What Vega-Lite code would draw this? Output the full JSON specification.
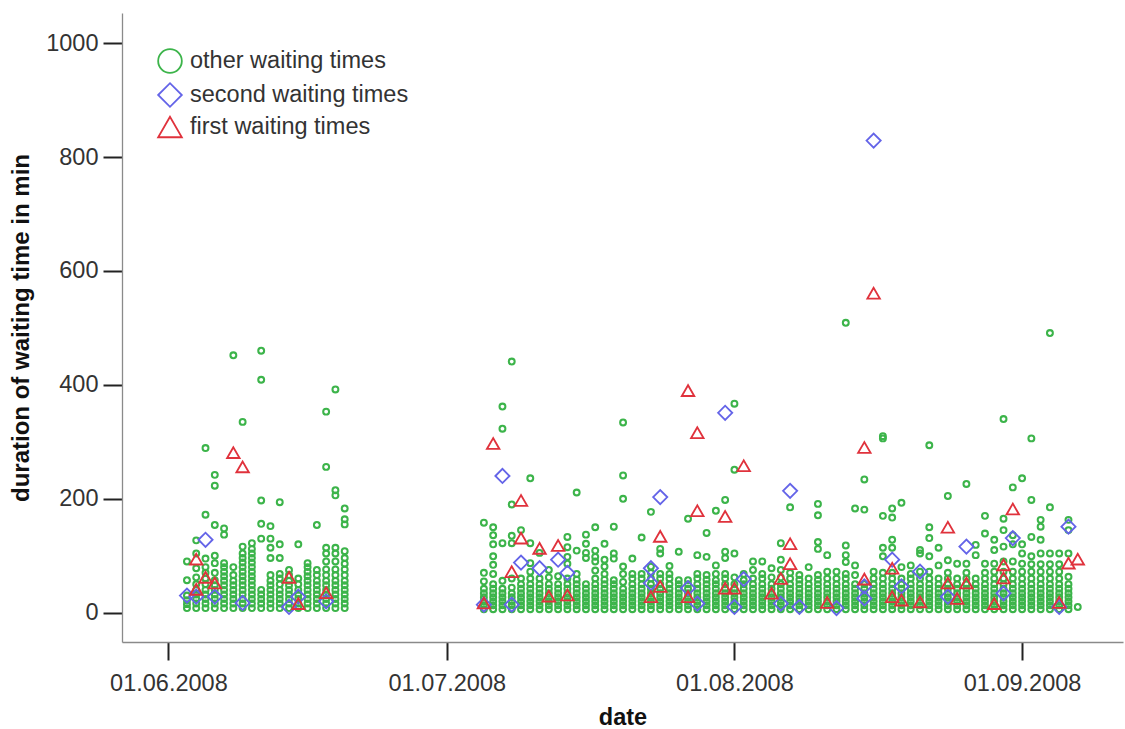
{
"$schema":"https://vega.github.io/schema/vega-lite/v6.json",
"width":1001,"height":629,
"autosize":{"type":"none"},
"padding":{"left":122,"top":13,"right":2,"bottom":87},
"background":"white",
"config":{"view":{"stroke":null},"font":"Liberation Sans"},
"data":{"values":[
{"d":"2008-06-03","v":8,"g":"other"},{"d":"2008-06-03","v":15,"g":"other"},{"d":"2008-06-03","v":22,"g":"other"},{"d":"2008-06-03","v":30,"g":"other"},{"d":"2008-06-03","v":57,"g":"other"},{"d":"2008-06-03","v":90,"g":"other"},
{"d":"2008-06-04","v":8,"g":"other"},{"d":"2008-06-04","v":16,"g":"other"},{"d":"2008-06-04","v":24,"g":"other"},{"d":"2008-06-04","v":32,"g":"other"},{"d":"2008-06-04","v":40,"g":"other"},{"d":"2008-06-04","v":50,"g":"other"},{"d":"2008-06-04","v":62,"g":"other"},{"d":"2008-06-04","v":78,"g":"other"},{"d":"2008-06-04","v":104,"g":"other"},{"d":"2008-06-04","v":127,"g":"other"},
{"d":"2008-06-05","v":8,"g":"other"},{"d":"2008-06-05","v":16,"g":"other"},{"d":"2008-06-05","v":24,"g":"other"},{"d":"2008-06-05","v":32,"g":"other"},{"d":"2008-06-05","v":40,"g":"other"},{"d":"2008-06-05","v":50,"g":"other"},{"d":"2008-06-05","v":60,"g":"other"},{"d":"2008-06-05","v":70,"g":"other"},{"d":"2008-06-05","v":80,"g":"other"},{"d":"2008-06-05","v":95,"g":"other"},{"d":"2008-06-05","v":172,"g":"other"},{"d":"2008-06-05","v":289,"g":"other"},
{"d":"2008-06-06","v":8,"g":"other"},{"d":"2008-06-06","v":16,"g":"other"},{"d":"2008-06-06","v":24,"g":"other"},{"d":"2008-06-06","v":32,"g":"other"},{"d":"2008-06-06","v":40,"g":"other"},{"d":"2008-06-06","v":48,"g":"other"},{"d":"2008-06-06","v":57,"g":"other"},{"d":"2008-06-06","v":70,"g":"other"},{"d":"2008-06-06","v":87,"g":"other"},{"d":"2008-06-06","v":100,"g":"other"},{"d":"2008-06-06","v":154,"g":"other"},{"d":"2008-06-06","v":223,"g":"other"},{"d":"2008-06-06","v":242,"g":"other"},
{"d":"2008-06-07","v":8,"g":"other"},{"d":"2008-06-07","v":16,"g":"other"},{"d":"2008-06-07","v":24,"g":"other"},{"d":"2008-06-07","v":32,"g":"other"},{"d":"2008-06-07","v":40,"g":"other"},{"d":"2008-06-07","v":48,"g":"other"},{"d":"2008-06-07","v":56,"g":"other"},{"d":"2008-06-07","v":64,"g":"other"},{"d":"2008-06-07","v":72,"g":"other"},{"d":"2008-06-07","v":80,"g":"other"},{"d":"2008-06-07","v":87,"g":"other"},{"d":"2008-06-07","v":137,"g":"other"},{"d":"2008-06-07","v":148,"g":"other"},
{"d":"2008-06-08","v":8,"g":"other"},{"d":"2008-06-08","v":16,"g":"other"},{"d":"2008-06-08","v":24,"g":"other"},{"d":"2008-06-08","v":32,"g":"other"},{"d":"2008-06-08","v":40,"g":"other"},{"d":"2008-06-08","v":48,"g":"other"},{"d":"2008-06-08","v":56,"g":"other"},{"d":"2008-06-08","v":66,"g":"other"},{"d":"2008-06-08","v":80,"g":"other"},{"d":"2008-06-08","v":452,"g":"other"},
{"d":"2008-06-09","v":8,"g":"other"},{"d":"2008-06-09","v":16,"g":"other"},{"d":"2008-06-09","v":24,"g":"other"},{"d":"2008-06-09","v":32,"g":"other"},{"d":"2008-06-09","v":40,"g":"other"},{"d":"2008-06-09","v":48,"g":"other"},{"d":"2008-06-09","v":56,"g":"other"},{"d":"2008-06-09","v":64,"g":"other"},{"d":"2008-06-09","v":72,"g":"other"},{"d":"2008-06-09","v":80,"g":"other"},{"d":"2008-06-09","v":88,"g":"other"},{"d":"2008-06-09","v":96,"g":"other"},{"d":"2008-06-09","v":104,"g":"other"},{"d":"2008-06-09","v":116,"g":"other"},{"d":"2008-06-09","v":335,"g":"other"},
{"d":"2008-06-10","v":8,"g":"other"},{"d":"2008-06-10","v":16,"g":"other"},{"d":"2008-06-10","v":24,"g":"other"},{"d":"2008-06-10","v":32,"g":"other"},{"d":"2008-06-10","v":40,"g":"other"},{"d":"2008-06-10","v":48,"g":"other"},{"d":"2008-06-10","v":56,"g":"other"},{"d":"2008-06-10","v":64,"g":"other"},{"d":"2008-06-10","v":72,"g":"other"},{"d":"2008-06-10","v":80,"g":"other"},{"d":"2008-06-10","v":88,"g":"other"},{"d":"2008-06-10","v":96,"g":"other"},{"d":"2008-06-10","v":104,"g":"other"},{"d":"2008-06-10","v":112,"g":"other"},{"d":"2008-06-10","v":122,"g":"other"},
{"d":"2008-06-11","v":8,"g":"other"},{"d":"2008-06-11","v":16,"g":"other"},{"d":"2008-06-11","v":24,"g":"other"},{"d":"2008-06-11","v":32,"g":"other"},{"d":"2008-06-11","v":40,"g":"other"},{"d":"2008-06-11","v":130,"g":"other"},{"d":"2008-06-11","v":156,"g":"other"},{"d":"2008-06-11","v":197,"g":"other"},{"d":"2008-06-11","v":409,"g":"other"},{"d":"2008-06-11","v":460,"g":"other"},
{"d":"2008-06-12","v":8,"g":"other"},{"d":"2008-06-12","v":16,"g":"other"},{"d":"2008-06-12","v":24,"g":"other"},{"d":"2008-06-12","v":32,"g":"other"},{"d":"2008-06-12","v":40,"g":"other"},{"d":"2008-06-12","v":48,"g":"other"},{"d":"2008-06-12","v":56,"g":"other"},{"d":"2008-06-12","v":66,"g":"other"},{"d":"2008-06-12","v":96,"g":"other"},{"d":"2008-06-12","v":114,"g":"other"},{"d":"2008-06-12","v":130,"g":"other"},{"d":"2008-06-12","v":152,"g":"other"},
{"d":"2008-06-13","v":8,"g":"other"},{"d":"2008-06-13","v":16,"g":"other"},{"d":"2008-06-13","v":24,"g":"other"},{"d":"2008-06-13","v":32,"g":"other"},{"d":"2008-06-13","v":40,"g":"other"},{"d":"2008-06-13","v":50,"g":"other"},{"d":"2008-06-13","v":60,"g":"other"},{"d":"2008-06-13","v":68,"g":"other"},{"d":"2008-06-13","v":96,"g":"other"},{"d":"2008-06-13","v":120,"g":"other"},{"d":"2008-06-13","v":194,"g":"other"},
{"d":"2008-06-14","v":8,"g":"other"},{"d":"2008-06-14","v":16,"g":"other"},{"d":"2008-06-14","v":24,"g":"other"},{"d":"2008-06-14","v":32,"g":"other"},{"d":"2008-06-14","v":40,"g":"other"},{"d":"2008-06-14","v":48,"g":"other"},{"d":"2008-06-14","v":56,"g":"other"},{"d":"2008-06-14","v":66,"g":"other"},{"d":"2008-06-14","v":75,"g":"other"},
{"d":"2008-06-15","v":8,"g":"other"},{"d":"2008-06-15","v":16,"g":"other"},{"d":"2008-06-15","v":24,"g":"other"},{"d":"2008-06-15","v":32,"g":"other"},{"d":"2008-06-15","v":40,"g":"other"},{"d":"2008-06-15","v":50,"g":"other"},{"d":"2008-06-15","v":60,"g":"other"},{"d":"2008-06-15","v":120,"g":"other"},
{"d":"2008-06-16","v":8,"g":"other"},{"d":"2008-06-16","v":16,"g":"other"},{"d":"2008-06-16","v":24,"g":"other"},{"d":"2008-06-16","v":32,"g":"other"},{"d":"2008-06-16","v":40,"g":"other"},{"d":"2008-06-16","v":48,"g":"other"},{"d":"2008-06-16","v":56,"g":"other"},{"d":"2008-06-16","v":64,"g":"other"},{"d":"2008-06-16","v":72,"g":"other"},{"d":"2008-06-16","v":80,"g":"other"},{"d":"2008-06-16","v":87,"g":"other"},
{"d":"2008-06-17","v":8,"g":"other"},{"d":"2008-06-17","v":16,"g":"other"},{"d":"2008-06-17","v":24,"g":"other"},{"d":"2008-06-17","v":32,"g":"other"},{"d":"2008-06-17","v":40,"g":"other"},{"d":"2008-06-17","v":48,"g":"other"},{"d":"2008-06-17","v":56,"g":"other"},{"d":"2008-06-17","v":66,"g":"other"},{"d":"2008-06-17","v":75,"g":"other"},{"d":"2008-06-17","v":154,"g":"other"},
{"d":"2008-06-18","v":8,"g":"other"},{"d":"2008-06-18","v":16,"g":"other"},{"d":"2008-06-18","v":24,"g":"other"},{"d":"2008-06-18","v":32,"g":"other"},{"d":"2008-06-18","v":40,"g":"other"},{"d":"2008-06-18","v":48,"g":"other"},{"d":"2008-06-18","v":56,"g":"other"},{"d":"2008-06-18","v":66,"g":"other"},{"d":"2008-06-18","v":76,"g":"other"},{"d":"2008-06-18","v":90,"g":"other"},{"d":"2008-06-18","v":104,"g":"other"},{"d":"2008-06-18","v":114,"g":"other"},{"d":"2008-06-18","v":256,"g":"other"},{"d":"2008-06-18","v":353,"g":"other"},
{"d":"2008-06-19","v":8,"g":"other"},{"d":"2008-06-19","v":16,"g":"other"},{"d":"2008-06-19","v":24,"g":"other"},{"d":"2008-06-19","v":32,"g":"other"},{"d":"2008-06-19","v":40,"g":"other"},{"d":"2008-06-19","v":48,"g":"other"},{"d":"2008-06-19","v":56,"g":"other"},{"d":"2008-06-19","v":66,"g":"other"},{"d":"2008-06-19","v":76,"g":"other"},{"d":"2008-06-19","v":90,"g":"other"},{"d":"2008-06-19","v":104,"g":"other"},{"d":"2008-06-19","v":114,"g":"other"},{"d":"2008-06-19","v":206,"g":"other"},{"d":"2008-06-19","v":215,"g":"other"},{"d":"2008-06-19","v":392,"g":"other"},
{"d":"2008-06-20","v":8,"g":"other"},{"d":"2008-06-20","v":16,"g":"other"},{"d":"2008-06-20","v":24,"g":"other"},{"d":"2008-06-20","v":32,"g":"other"},{"d":"2008-06-20","v":40,"g":"other"},{"d":"2008-06-20","v":48,"g":"other"},{"d":"2008-06-20","v":56,"g":"other"},{"d":"2008-06-20","v":66,"g":"other"},{"d":"2008-06-20","v":76,"g":"other"},{"d":"2008-06-20","v":86,"g":"other"},{"d":"2008-06-20","v":96,"g":"other"},{"d":"2008-06-20","v":108,"g":"other"},{"d":"2008-06-20","v":155,"g":"other"},{"d":"2008-06-20","v":164,"g":"other"},{"d":"2008-06-20","v":183,"g":"other"},
{"d":"2008-07-05","v":6,"g":"other"},{"d":"2008-07-05","v":13,"g":"other"},{"d":"2008-07-05","v":20,"g":"other"},{"d":"2008-07-05","v":27,"g":"other"},{"d":"2008-07-05","v":34,"g":"other"},{"d":"2008-07-05","v":42,"g":"other"},{"d":"2008-07-05","v":55,"g":"other"},{"d":"2008-07-05","v":70,"g":"other"},{"d":"2008-07-05","v":158,"g":"other"},
{"d":"2008-07-06","v":6,"g":"other"},{"d":"2008-07-06","v":13,"g":"other"},{"d":"2008-07-06","v":20,"g":"other"},{"d":"2008-07-06","v":27,"g":"other"},{"d":"2008-07-06","v":34,"g":"other"},{"d":"2008-07-06","v":42,"g":"other"},{"d":"2008-07-06","v":50,"g":"other"},{"d":"2008-07-06","v":68,"g":"other"},{"d":"2008-07-06","v":84,"g":"other"},{"d":"2008-07-06","v":99,"g":"other"},{"d":"2008-07-06","v":120,"g":"other"},{"d":"2008-07-06","v":136,"g":"other"},{"d":"2008-07-06","v":150,"g":"other"},
{"d":"2008-07-07","v":6,"g":"other"},{"d":"2008-07-07","v":13,"g":"other"},{"d":"2008-07-07","v":20,"g":"other"},{"d":"2008-07-07","v":27,"g":"other"},{"d":"2008-07-07","v":34,"g":"other"},{"d":"2008-07-07","v":42,"g":"other"},{"d":"2008-07-07","v":56,"g":"other"},{"d":"2008-07-07","v":122,"g":"other"},{"d":"2008-07-07","v":323,"g":"other"},{"d":"2008-07-07","v":362,"g":"other"},
{"d":"2008-07-08","v":6,"g":"other"},{"d":"2008-07-08","v":13,"g":"other"},{"d":"2008-07-08","v":20,"g":"other"},{"d":"2008-07-08","v":27,"g":"other"},{"d":"2008-07-08","v":34,"g":"other"},{"d":"2008-07-08","v":44,"g":"other"},{"d":"2008-07-08","v":60,"g":"other"},{"d":"2008-07-08","v":122,"g":"other"},{"d":"2008-07-08","v":135,"g":"other"},{"d":"2008-07-08","v":190,"g":"other"},{"d":"2008-07-08","v":441,"g":"other"},
{"d":"2008-07-09","v":6,"g":"other"},{"d":"2008-07-09","v":13,"g":"other"},{"d":"2008-07-09","v":20,"g":"other"},{"d":"2008-07-09","v":27,"g":"other"},{"d":"2008-07-09","v":34,"g":"other"},{"d":"2008-07-09","v":42,"g":"other"},{"d":"2008-07-09","v":50,"g":"other"},{"d":"2008-07-09","v":60,"g":"other"},{"d":"2008-07-09","v":145,"g":"other"},
{"d":"2008-07-10","v":6,"g":"other"},{"d":"2008-07-10","v":13,"g":"other"},{"d":"2008-07-10","v":20,"g":"other"},{"d":"2008-07-10","v":27,"g":"other"},{"d":"2008-07-10","v":34,"g":"other"},{"d":"2008-07-10","v":42,"g":"other"},{"d":"2008-07-10","v":50,"g":"other"},{"d":"2008-07-10","v":60,"g":"other"},{"d":"2008-07-10","v":72,"g":"other"},{"d":"2008-07-10","v":87,"g":"other"},{"d":"2008-07-10","v":122,"g":"other"},{"d":"2008-07-10","v":236,"g":"other"},
{"d":"2008-07-11","v":6,"g":"other"},{"d":"2008-07-11","v":13,"g":"other"},{"d":"2008-07-11","v":20,"g":"other"},{"d":"2008-07-11","v":27,"g":"other"},{"d":"2008-07-11","v":34,"g":"other"},{"d":"2008-07-11","v":42,"g":"other"},{"d":"2008-07-11","v":50,"g":"other"},{"d":"2008-07-11","v":60,"g":"other"},{"d":"2008-07-11","v":105,"g":"other"},
{"d":"2008-07-12","v":6,"g":"other"},{"d":"2008-07-12","v":13,"g":"other"},{"d":"2008-07-12","v":20,"g":"other"},{"d":"2008-07-12","v":27,"g":"other"},{"d":"2008-07-12","v":34,"g":"other"},{"d":"2008-07-12","v":42,"g":"other"},{"d":"2008-07-12","v":50,"g":"other"},{"d":"2008-07-12","v":62,"g":"other"},{"d":"2008-07-12","v":75,"g":"other"},
{"d":"2008-07-13","v":6,"g":"other"},{"d":"2008-07-13","v":13,"g":"other"},{"d":"2008-07-13","v":20,"g":"other"},{"d":"2008-07-13","v":27,"g":"other"},{"d":"2008-07-13","v":34,"g":"other"},{"d":"2008-07-13","v":42,"g":"other"},{"d":"2008-07-13","v":50,"g":"other"},{"d":"2008-07-13","v":64,"g":"other"},
{"d":"2008-07-14","v":6,"g":"other"},{"d":"2008-07-14","v":13,"g":"other"},{"d":"2008-07-14","v":20,"g":"other"},{"d":"2008-07-14","v":27,"g":"other"},{"d":"2008-07-14","v":34,"g":"other"},{"d":"2008-07-14","v":42,"g":"other"},{"d":"2008-07-14","v":50,"g":"other"},{"d":"2008-07-14","v":60,"g":"other"},{"d":"2008-07-14","v":86,"g":"other"},{"d":"2008-07-14","v":98,"g":"other"},{"d":"2008-07-14","v":115,"g":"other"},{"d":"2008-07-14","v":133,"g":"other"},
{"d":"2008-07-15","v":6,"g":"other"},{"d":"2008-07-15","v":13,"g":"other"},{"d":"2008-07-15","v":20,"g":"other"},{"d":"2008-07-15","v":27,"g":"other"},{"d":"2008-07-15","v":34,"g":"other"},{"d":"2008-07-15","v":42,"g":"other"},{"d":"2008-07-15","v":50,"g":"other"},{"d":"2008-07-15","v":58,"g":"other"},{"d":"2008-07-15","v":68,"g":"other"},{"d":"2008-07-15","v":109,"g":"other"},{"d":"2008-07-15","v":211,"g":"other"},
{"d":"2008-07-16","v":6,"g":"other"},{"d":"2008-07-16","v":13,"g":"other"},{"d":"2008-07-16","v":20,"g":"other"},{"d":"2008-07-16","v":27,"g":"other"},{"d":"2008-07-16","v":34,"g":"other"},{"d":"2008-07-16","v":42,"g":"other"},{"d":"2008-07-16","v":50,"g":"other"},{"d":"2008-07-16","v":96,"g":"other"},{"d":"2008-07-16","v":105,"g":"other"},{"d":"2008-07-16","v":121,"g":"other"},{"d":"2008-07-16","v":137,"g":"other"},
{"d":"2008-07-17","v":6,"g":"other"},{"d":"2008-07-17","v":13,"g":"other"},{"d":"2008-07-17","v":20,"g":"other"},{"d":"2008-07-17","v":27,"g":"other"},{"d":"2008-07-17","v":34,"g":"other"},{"d":"2008-07-17","v":42,"g":"other"},{"d":"2008-07-17","v":50,"g":"other"},{"d":"2008-07-17","v":60,"g":"other"},{"d":"2008-07-17","v":74,"g":"other"},{"d":"2008-07-17","v":90,"g":"other"},{"d":"2008-07-17","v":98,"g":"other"},{"d":"2008-07-17","v":109,"g":"other"},{"d":"2008-07-17","v":150,"g":"other"},
{"d":"2008-07-18","v":6,"g":"other"},{"d":"2008-07-18","v":13,"g":"other"},{"d":"2008-07-18","v":20,"g":"other"},{"d":"2008-07-18","v":27,"g":"other"},{"d":"2008-07-18","v":34,"g":"other"},{"d":"2008-07-18","v":42,"g":"other"},{"d":"2008-07-18","v":50,"g":"other"},{"d":"2008-07-18","v":58,"g":"other"},{"d":"2008-07-18","v":68,"g":"other"},{"d":"2008-07-18","v":81,"g":"other"},{"d":"2008-07-18","v":93,"g":"other"},{"d":"2008-07-18","v":121,"g":"other"},
{"d":"2008-07-19","v":6,"g":"other"},{"d":"2008-07-19","v":13,"g":"other"},{"d":"2008-07-19","v":20,"g":"other"},{"d":"2008-07-19","v":27,"g":"other"},{"d":"2008-07-19","v":34,"g":"other"},{"d":"2008-07-19","v":42,"g":"other"},{"d":"2008-07-19","v":50,"g":"other"},{"d":"2008-07-19","v":57,"g":"other"},{"d":"2008-07-19","v":95,"g":"other"},{"d":"2008-07-19","v":104,"g":"other"},{"d":"2008-07-19","v":151,"g":"other"},
{"d":"2008-07-20","v":6,"g":"other"},{"d":"2008-07-20","v":13,"g":"other"},{"d":"2008-07-20","v":20,"g":"other"},{"d":"2008-07-20","v":27,"g":"other"},{"d":"2008-07-20","v":34,"g":"other"},{"d":"2008-07-20","v":42,"g":"other"},{"d":"2008-07-20","v":54,"g":"other"},{"d":"2008-07-20","v":68,"g":"other"},{"d":"2008-07-20","v":81,"g":"other"},{"d":"2008-07-20","v":200,"g":"other"},{"d":"2008-07-20","v":241,"g":"other"},{"d":"2008-07-20","v":334,"g":"other"},
{"d":"2008-07-21","v":6,"g":"other"},{"d":"2008-07-21","v":13,"g":"other"},{"d":"2008-07-21","v":20,"g":"other"},{"d":"2008-07-21","v":27,"g":"other"},{"d":"2008-07-21","v":34,"g":"other"},{"d":"2008-07-21","v":42,"g":"other"},{"d":"2008-07-21","v":50,"g":"other"},{"d":"2008-07-21","v":60,"g":"other"},{"d":"2008-07-21","v":68,"g":"other"},{"d":"2008-07-21","v":95,"g":"other"},
{"d":"2008-07-22","v":6,"g":"other"},{"d":"2008-07-22","v":13,"g":"other"},{"d":"2008-07-22","v":20,"g":"other"},{"d":"2008-07-22","v":27,"g":"other"},{"d":"2008-07-22","v":34,"g":"other"},{"d":"2008-07-22","v":42,"g":"other"},{"d":"2008-07-22","v":50,"g":"other"},{"d":"2008-07-22","v":60,"g":"other"},{"d":"2008-07-22","v":68,"g":"other"},{"d":"2008-07-22","v":132,"g":"other"},
{"d":"2008-07-23","v":6,"g":"other"},{"d":"2008-07-23","v":13,"g":"other"},{"d":"2008-07-23","v":20,"g":"other"},{"d":"2008-07-23","v":27,"g":"other"},{"d":"2008-07-23","v":34,"g":"other"},{"d":"2008-07-23","v":42,"g":"other"},{"d":"2008-07-23","v":50,"g":"other"},{"d":"2008-07-23","v":60,"g":"other"},{"d":"2008-07-23","v":70,"g":"other"},{"d":"2008-07-23","v":81,"g":"other"},{"d":"2008-07-23","v":177,"g":"other"},
{"d":"2008-07-24","v":6,"g":"other"},{"d":"2008-07-24","v":13,"g":"other"},{"d":"2008-07-24","v":20,"g":"other"},{"d":"2008-07-24","v":27,"g":"other"},{"d":"2008-07-24","v":34,"g":"other"},{"d":"2008-07-24","v":42,"g":"other"},{"d":"2008-07-24","v":50,"g":"other"},{"d":"2008-07-24","v":60,"g":"other"},{"d":"2008-07-24","v":68,"g":"other"},{"d":"2008-07-24","v":104,"g":"other"},{"d":"2008-07-24","v":112,"g":"other"},
{"d":"2008-07-25","v":6,"g":"other"},{"d":"2008-07-25","v":13,"g":"other"},{"d":"2008-07-25","v":20,"g":"other"},{"d":"2008-07-25","v":27,"g":"other"},{"d":"2008-07-25","v":34,"g":"other"},{"d":"2008-07-25","v":42,"g":"other"},{"d":"2008-07-25","v":50,"g":"other"},{"d":"2008-07-25","v":60,"g":"other"},{"d":"2008-07-25","v":68,"g":"other"},{"d":"2008-07-25","v":82,"g":"other"},
{"d":"2008-07-26","v":6,"g":"other"},{"d":"2008-07-26","v":13,"g":"other"},{"d":"2008-07-26","v":20,"g":"other"},{"d":"2008-07-26","v":27,"g":"other"},{"d":"2008-07-26","v":34,"g":"other"},{"d":"2008-07-26","v":42,"g":"other"},{"d":"2008-07-26","v":50,"g":"other"},{"d":"2008-07-26","v":57,"g":"other"},{"d":"2008-07-26","v":107,"g":"other"},
{"d":"2008-07-27","v":6,"g":"other"},{"d":"2008-07-27","v":13,"g":"other"},{"d":"2008-07-27","v":20,"g":"other"},{"d":"2008-07-27","v":27,"g":"other"},{"d":"2008-07-27","v":34,"g":"other"},{"d":"2008-07-27","v":42,"g":"other"},{"d":"2008-07-27","v":50,"g":"other"},{"d":"2008-07-27","v":57,"g":"other"},{"d":"2008-07-27","v":165,"g":"other"},
{"d":"2008-07-28","v":6,"g":"other"},{"d":"2008-07-28","v":13,"g":"other"},{"d":"2008-07-28","v":20,"g":"other"},{"d":"2008-07-28","v":27,"g":"other"},{"d":"2008-07-28","v":34,"g":"other"},{"d":"2008-07-28","v":42,"g":"other"},{"d":"2008-07-28","v":50,"g":"other"},{"d":"2008-07-28","v":60,"g":"other"},{"d":"2008-07-28","v":68,"g":"other"},{"d":"2008-07-28","v":101,"g":"other"},
{"d":"2008-07-29","v":6,"g":"other"},{"d":"2008-07-29","v":13,"g":"other"},{"d":"2008-07-29","v":20,"g":"other"},{"d":"2008-07-29","v":27,"g":"other"},{"d":"2008-07-29","v":34,"g":"other"},{"d":"2008-07-29","v":42,"g":"other"},{"d":"2008-07-29","v":50,"g":"other"},{"d":"2008-07-29","v":58,"g":"other"},{"d":"2008-07-29","v":66,"g":"other"},{"d":"2008-07-29","v":98,"g":"other"},{"d":"2008-07-29","v":140,"g":"other"},
{"d":"2008-07-30","v":6,"g":"other"},{"d":"2008-07-30","v":13,"g":"other"},{"d":"2008-07-30","v":20,"g":"other"},{"d":"2008-07-30","v":27,"g":"other"},{"d":"2008-07-30","v":34,"g":"other"},{"d":"2008-07-30","v":42,"g":"other"},{"d":"2008-07-30","v":50,"g":"other"},{"d":"2008-07-30","v":57,"g":"other"},{"d":"2008-07-30","v":68,"g":"other"},{"d":"2008-07-30","v":83,"g":"other"},{"d":"2008-07-30","v":179,"g":"other"},
{"d":"2008-07-31","v":6,"g":"other"},{"d":"2008-07-31","v":13,"g":"other"},{"d":"2008-07-31","v":20,"g":"other"},{"d":"2008-07-31","v":27,"g":"other"},{"d":"2008-07-31","v":34,"g":"other"},{"d":"2008-07-31","v":42,"g":"other"},{"d":"2008-07-31","v":50,"g":"other"},{"d":"2008-07-31","v":60,"g":"other"},{"d":"2008-07-31","v":68,"g":"other"},{"d":"2008-07-31","v":96,"g":"other"},{"d":"2008-07-31","v":107,"g":"other"},{"d":"2008-07-31","v":198,"g":"other"},
{"d":"2008-08-01","v":6,"g":"other"},{"d":"2008-08-01","v":13,"g":"other"},{"d":"2008-08-01","v":20,"g":"other"},{"d":"2008-08-01","v":27,"g":"other"},{"d":"2008-08-01","v":34,"g":"other"},{"d":"2008-08-01","v":42,"g":"other"},{"d":"2008-08-01","v":50,"g":"other"},{"d":"2008-08-01","v":62,"g":"other"},{"d":"2008-08-01","v":104,"g":"other"},{"d":"2008-08-01","v":251,"g":"other"},{"d":"2008-08-01","v":367,"g":"other"},
{"d":"2008-08-02","v":6,"g":"other"},{"d":"2008-08-02","v":13,"g":"other"},{"d":"2008-08-02","v":20,"g":"other"},{"d":"2008-08-02","v":27,"g":"other"},{"d":"2008-08-02","v":34,"g":"other"},{"d":"2008-08-02","v":42,"g":"other"},{"d":"2008-08-02","v":50,"g":"other"},{"d":"2008-08-02","v":57,"g":"other"},{"d":"2008-08-02","v":68,"g":"other"},
{"d":"2008-08-03","v":6,"g":"other"},{"d":"2008-08-03","v":13,"g":"other"},{"d":"2008-08-03","v":20,"g":"other"},{"d":"2008-08-03","v":27,"g":"other"},{"d":"2008-08-03","v":34,"g":"other"},{"d":"2008-08-03","v":42,"g":"other"},{"d":"2008-08-03","v":50,"g":"other"},{"d":"2008-08-03","v":60,"g":"other"},{"d":"2008-08-03","v":75,"g":"other"},{"d":"2008-08-03","v":90,"g":"other"},
{"d":"2008-08-04","v":6,"g":"other"},{"d":"2008-08-04","v":13,"g":"other"},{"d":"2008-08-04","v":20,"g":"other"},{"d":"2008-08-04","v":27,"g":"other"},{"d":"2008-08-04","v":34,"g":"other"},{"d":"2008-08-04","v":42,"g":"other"},{"d":"2008-08-04","v":50,"g":"other"},{"d":"2008-08-04","v":60,"g":"other"},{"d":"2008-08-04","v":68,"g":"other"},{"d":"2008-08-04","v":90,"g":"other"},
{"d":"2008-08-05","v":6,"g":"other"},{"d":"2008-08-05","v":13,"g":"other"},{"d":"2008-08-05","v":20,"g":"other"},{"d":"2008-08-05","v":27,"g":"other"},{"d":"2008-08-05","v":34,"g":"other"},{"d":"2008-08-05","v":42,"g":"other"},{"d":"2008-08-05","v":50,"g":"other"},{"d":"2008-08-05","v":62,"g":"other"},{"d":"2008-08-05","v":78,"g":"other"},
{"d":"2008-08-06","v":6,"g":"other"},{"d":"2008-08-06","v":13,"g":"other"},{"d":"2008-08-06","v":20,"g":"other"},{"d":"2008-08-06","v":27,"g":"other"},{"d":"2008-08-06","v":34,"g":"other"},{"d":"2008-08-06","v":42,"g":"other"},{"d":"2008-08-06","v":50,"g":"other"},{"d":"2008-08-06","v":62,"g":"other"},{"d":"2008-08-06","v":75,"g":"other"},{"d":"2008-08-06","v":93,"g":"other"},{"d":"2008-08-06","v":122,"g":"other"},
{"d":"2008-08-07","v":6,"g":"other"},{"d":"2008-08-07","v":13,"g":"other"},{"d":"2008-08-07","v":20,"g":"other"},{"d":"2008-08-07","v":27,"g":"other"},{"d":"2008-08-07","v":34,"g":"other"},{"d":"2008-08-07","v":42,"g":"other"},{"d":"2008-08-07","v":50,"g":"other"},{"d":"2008-08-07","v":60,"g":"other"},{"d":"2008-08-07","v":70,"g":"other"},{"d":"2008-08-07","v":185,"g":"other"},
{"d":"2008-08-08","v":6,"g":"other"},{"d":"2008-08-08","v":13,"g":"other"},{"d":"2008-08-08","v":20,"g":"other"},{"d":"2008-08-08","v":27,"g":"other"},{"d":"2008-08-08","v":34,"g":"other"},{"d":"2008-08-08","v":42,"g":"other"},{"d":"2008-08-08","v":50,"g":"other"},{"d":"2008-08-08","v":58,"g":"other"},{"d":"2008-08-08","v":66,"g":"other"},
{"d":"2008-08-09","v":6,"g":"other"},{"d":"2008-08-09","v":13,"g":"other"},{"d":"2008-08-09","v":20,"g":"other"},{"d":"2008-08-09","v":27,"g":"other"},{"d":"2008-08-09","v":34,"g":"other"},{"d":"2008-08-09","v":42,"g":"other"},{"d":"2008-08-09","v":50,"g":"other"},{"d":"2008-08-09","v":60,"g":"other"},{"d":"2008-08-09","v":80,"g":"other"},
{"d":"2008-08-10","v":6,"g":"other"},{"d":"2008-08-10","v":13,"g":"other"},{"d":"2008-08-10","v":20,"g":"other"},{"d":"2008-08-10","v":27,"g":"other"},{"d":"2008-08-10","v":34,"g":"other"},{"d":"2008-08-10","v":42,"g":"other"},{"d":"2008-08-10","v":50,"g":"other"},{"d":"2008-08-10","v":58,"g":"other"},{"d":"2008-08-10","v":66,"g":"other"},{"d":"2008-08-10","v":112,"g":"other"},{"d":"2008-08-10","v":124,"g":"other"},{"d":"2008-08-10","v":171,"g":"other"},{"d":"2008-08-10","v":191,"g":"other"},
{"d":"2008-08-11","v":6,"g":"other"},{"d":"2008-08-11","v":13,"g":"other"},{"d":"2008-08-11","v":20,"g":"other"},{"d":"2008-08-11","v":27,"g":"other"},{"d":"2008-08-11","v":34,"g":"other"},{"d":"2008-08-11","v":42,"g":"other"},{"d":"2008-08-11","v":50,"g":"other"},{"d":"2008-08-11","v":60,"g":"other"},{"d":"2008-08-11","v":72,"g":"other"},{"d":"2008-08-11","v":101,"g":"other"},
{"d":"2008-08-12","v":6,"g":"other"},{"d":"2008-08-12","v":13,"g":"other"},{"d":"2008-08-12","v":20,"g":"other"},{"d":"2008-08-12","v":27,"g":"other"},{"d":"2008-08-12","v":34,"g":"other"},{"d":"2008-08-12","v":42,"g":"other"},{"d":"2008-08-12","v":50,"g":"other"},{"d":"2008-08-12","v":60,"g":"other"},{"d":"2008-08-12","v":72,"g":"other"},
{"d":"2008-08-13","v":6,"g":"other"},{"d":"2008-08-13","v":13,"g":"other"},{"d":"2008-08-13","v":20,"g":"other"},{"d":"2008-08-13","v":27,"g":"other"},{"d":"2008-08-13","v":34,"g":"other"},{"d":"2008-08-13","v":42,"g":"other"},{"d":"2008-08-13","v":50,"g":"other"},{"d":"2008-08-13","v":60,"g":"other"},{"d":"2008-08-13","v":68,"g":"other"},{"d":"2008-08-13","v":89,"g":"other"},{"d":"2008-08-13","v":101,"g":"other"},{"d":"2008-08-13","v":118,"g":"other"},{"d":"2008-08-13","v":509,"g":"other"},
{"d":"2008-08-14","v":6,"g":"other"},{"d":"2008-08-14","v":13,"g":"other"},{"d":"2008-08-14","v":20,"g":"other"},{"d":"2008-08-14","v":27,"g":"other"},{"d":"2008-08-14","v":34,"g":"other"},{"d":"2008-08-14","v":42,"g":"other"},{"d":"2008-08-14","v":50,"g":"other"},{"d":"2008-08-14","v":66,"g":"other"},{"d":"2008-08-14","v":83,"g":"other"},{"d":"2008-08-14","v":183,"g":"other"},
{"d":"2008-08-15","v":6,"g":"other"},{"d":"2008-08-15","v":13,"g":"other"},{"d":"2008-08-15","v":20,"g":"other"},{"d":"2008-08-15","v":27,"g":"other"},{"d":"2008-08-15","v":34,"g":"other"},{"d":"2008-08-15","v":42,"g":"other"},{"d":"2008-08-15","v":50,"g":"other"},{"d":"2008-08-15","v":181,"g":"other"},{"d":"2008-08-15","v":234,"g":"other"},
{"d":"2008-08-16","v":6,"g":"other"},{"d":"2008-08-16","v":13,"g":"other"},{"d":"2008-08-16","v":20,"g":"other"},{"d":"2008-08-16","v":27,"g":"other"},{"d":"2008-08-16","v":34,"g":"other"},{"d":"2008-08-16","v":42,"g":"other"},{"d":"2008-08-16","v":50,"g":"other"},{"d":"2008-08-16","v":60,"g":"other"},{"d":"2008-08-16","v":72,"g":"other"},
{"d":"2008-08-17","v":6,"g":"other"},{"d":"2008-08-17","v":13,"g":"other"},{"d":"2008-08-17","v":20,"g":"other"},{"d":"2008-08-17","v":27,"g":"other"},{"d":"2008-08-17","v":34,"g":"other"},{"d":"2008-08-17","v":42,"g":"other"},{"d":"2008-08-17","v":50,"g":"other"},{"d":"2008-08-17","v":60,"g":"other"},{"d":"2008-08-17","v":70,"g":"other"},{"d":"2008-08-17","v":99,"g":"other"},{"d":"2008-08-17","v":114,"g":"other"},{"d":"2008-08-17","v":170,"g":"other"},{"d":"2008-08-17","v":306,"g":"other"},{"d":"2008-08-17","v":310,"g":"other"},
{"d":"2008-08-18","v":6,"g":"other"},{"d":"2008-08-18","v":13,"g":"other"},{"d":"2008-08-18","v":20,"g":"other"},{"d":"2008-08-18","v":27,"g":"other"},{"d":"2008-08-18","v":34,"g":"other"},{"d":"2008-08-18","v":42,"g":"other"},{"d":"2008-08-18","v":50,"g":"other"},{"d":"2008-08-18","v":60,"g":"other"},{"d":"2008-08-18","v":70,"g":"other"},{"d":"2008-08-18","v":114,"g":"other"},{"d":"2008-08-18","v":128,"g":"other"},{"d":"2008-08-18","v":167,"g":"other"},{"d":"2008-08-18","v":183,"g":"other"},
{"d":"2008-08-19","v":6,"g":"other"},{"d":"2008-08-19","v":13,"g":"other"},{"d":"2008-08-19","v":20,"g":"other"},{"d":"2008-08-19","v":27,"g":"other"},{"d":"2008-08-19","v":34,"g":"other"},{"d":"2008-08-19","v":42,"g":"other"},{"d":"2008-08-19","v":50,"g":"other"},{"d":"2008-08-19","v":60,"g":"other"},{"d":"2008-08-19","v":80,"g":"other"},{"d":"2008-08-19","v":193,"g":"other"},
{"d":"2008-08-20","v":6,"g":"other"},{"d":"2008-08-20","v":13,"g":"other"},{"d":"2008-08-20","v":20,"g":"other"},{"d":"2008-08-20","v":27,"g":"other"},{"d":"2008-08-20","v":34,"g":"other"},{"d":"2008-08-20","v":42,"g":"other"},{"d":"2008-08-20","v":50,"g":"other"},{"d":"2008-08-20","v":60,"g":"other"},{"d":"2008-08-20","v":68,"g":"other"},{"d":"2008-08-20","v":83,"g":"other"},
{"d":"2008-08-21","v":6,"g":"other"},{"d":"2008-08-21","v":13,"g":"other"},{"d":"2008-08-21","v":20,"g":"other"},{"d":"2008-08-21","v":27,"g":"other"},{"d":"2008-08-21","v":34,"g":"other"},{"d":"2008-08-21","v":42,"g":"other"},{"d":"2008-08-21","v":50,"g":"other"},{"d":"2008-08-21","v":60,"g":"other"},{"d":"2008-08-21","v":72,"g":"other"},{"d":"2008-08-21","v":104,"g":"other"},{"d":"2008-08-21","v":110,"g":"other"},
{"d":"2008-08-22","v":6,"g":"other"},{"d":"2008-08-22","v":13,"g":"other"},{"d":"2008-08-22","v":20,"g":"other"},{"d":"2008-08-22","v":27,"g":"other"},{"d":"2008-08-22","v":34,"g":"other"},{"d":"2008-08-22","v":42,"g":"other"},{"d":"2008-08-22","v":50,"g":"other"},{"d":"2008-08-22","v":60,"g":"other"},{"d":"2008-08-22","v":72,"g":"other"},{"d":"2008-08-22","v":99,"g":"other"},{"d":"2008-08-22","v":131,"g":"other"},{"d":"2008-08-22","v":150,"g":"other"},{"d":"2008-08-22","v":294,"g":"other"},
{"d":"2008-08-23","v":6,"g":"other"},{"d":"2008-08-23","v":13,"g":"other"},{"d":"2008-08-23","v":20,"g":"other"},{"d":"2008-08-23","v":27,"g":"other"},{"d":"2008-08-23","v":34,"g":"other"},{"d":"2008-08-23","v":42,"g":"other"},{"d":"2008-08-23","v":50,"g":"other"},{"d":"2008-08-23","v":60,"g":"other"},{"d":"2008-08-23","v":83,"g":"other"},{"d":"2008-08-23","v":114,"g":"other"},
{"d":"2008-08-24","v":6,"g":"other"},{"d":"2008-08-24","v":13,"g":"other"},{"d":"2008-08-24","v":20,"g":"other"},{"d":"2008-08-24","v":27,"g":"other"},{"d":"2008-08-24","v":34,"g":"other"},{"d":"2008-08-24","v":42,"g":"other"},{"d":"2008-08-24","v":50,"g":"other"},{"d":"2008-08-24","v":60,"g":"other"},{"d":"2008-08-24","v":70,"g":"other"},{"d":"2008-08-24","v":92,"g":"other"},{"d":"2008-08-24","v":205,"g":"other"},
{"d":"2008-08-25","v":6,"g":"other"},{"d":"2008-08-25","v":13,"g":"other"},{"d":"2008-08-25","v":20,"g":"other"},{"d":"2008-08-25","v":27,"g":"other"},{"d":"2008-08-25","v":34,"g":"other"},{"d":"2008-08-25","v":42,"g":"other"},{"d":"2008-08-25","v":50,"g":"other"},{"d":"2008-08-25","v":60,"g":"other"},{"d":"2008-08-25","v":86,"g":"other"},
{"d":"2008-08-26","v":6,"g":"other"},{"d":"2008-08-26","v":13,"g":"other"},{"d":"2008-08-26","v":20,"g":"other"},{"d":"2008-08-26","v":27,"g":"other"},{"d":"2008-08-26","v":34,"g":"other"},{"d":"2008-08-26","v":42,"g":"other"},{"d":"2008-08-26","v":50,"g":"other"},{"d":"2008-08-26","v":60,"g":"other"},{"d":"2008-08-26","v":70,"g":"other"},{"d":"2008-08-26","v":86,"g":"other"},{"d":"2008-08-26","v":226,"g":"other"},
{"d":"2008-08-27","v":6,"g":"other"},{"d":"2008-08-27","v":13,"g":"other"},{"d":"2008-08-27","v":20,"g":"other"},{"d":"2008-08-27","v":27,"g":"other"},{"d":"2008-08-27","v":34,"g":"other"},{"d":"2008-08-27","v":42,"g":"other"},{"d":"2008-08-27","v":50,"g":"other"},{"d":"2008-08-27","v":60,"g":"other"},{"d":"2008-08-27","v":101,"g":"other"},{"d":"2008-08-27","v":119,"g":"other"},
{"d":"2008-08-28","v":6,"g":"other"},{"d":"2008-08-28","v":13,"g":"other"},{"d":"2008-08-28","v":20,"g":"other"},{"d":"2008-08-28","v":27,"g":"other"},{"d":"2008-08-28","v":34,"g":"other"},{"d":"2008-08-28","v":42,"g":"other"},{"d":"2008-08-28","v":50,"g":"other"},{"d":"2008-08-28","v":60,"g":"other"},{"d":"2008-08-28","v":70,"g":"other"},{"d":"2008-08-28","v":86,"g":"other"},{"d":"2008-08-28","v":139,"g":"other"},{"d":"2008-08-28","v":170,"g":"other"},
{"d":"2008-08-29","v":6,"g":"other"},{"d":"2008-08-29","v":13,"g":"other"},{"d":"2008-08-29","v":20,"g":"other"},{"d":"2008-08-29","v":27,"g":"other"},{"d":"2008-08-29","v":34,"g":"other"},{"d":"2008-08-29","v":42,"g":"other"},{"d":"2008-08-29","v":50,"g":"other"},{"d":"2008-08-29","v":60,"g":"other"},{"d":"2008-08-29","v":72,"g":"other"},{"d":"2008-08-29","v":86,"g":"other"},{"d":"2008-08-29","v":110,"g":"other"},{"d":"2008-08-29","v":128,"g":"other"},
{"d":"2008-08-30","v":6,"g":"other"},{"d":"2008-08-30","v":13,"g":"other"},{"d":"2008-08-30","v":20,"g":"other"},{"d":"2008-08-30","v":27,"g":"other"},{"d":"2008-08-30","v":34,"g":"other"},{"d":"2008-08-30","v":42,"g":"other"},{"d":"2008-08-30","v":50,"g":"other"},{"d":"2008-08-30","v":60,"g":"other"},{"d":"2008-08-30","v":72,"g":"other"},{"d":"2008-08-30","v":90,"g":"other"},{"d":"2008-08-30","v":116,"g":"other"},{"d":"2008-08-30","v":145,"g":"other"},{"d":"2008-08-30","v":165,"g":"other"},{"d":"2008-08-30","v":340,"g":"other"},
{"d":"2008-08-31","v":6,"g":"other"},{"d":"2008-08-31","v":13,"g":"other"},{"d":"2008-08-31","v":20,"g":"other"},{"d":"2008-08-31","v":27,"g":"other"},{"d":"2008-08-31","v":34,"g":"other"},{"d":"2008-08-31","v":42,"g":"other"},{"d":"2008-08-31","v":50,"g":"other"},{"d":"2008-08-31","v":60,"g":"other"},{"d":"2008-08-31","v":72,"g":"other"},{"d":"2008-08-31","v":90,"g":"other"},{"d":"2008-08-31","v":120,"g":"other"},{"d":"2008-08-31","v":136,"g":"other"},{"d":"2008-08-31","v":220,"g":"other"},
{"d":"2008-09-01","v":6,"g":"other"},{"d":"2008-09-01","v":13,"g":"other"},{"d":"2008-09-01","v":20,"g":"other"},{"d":"2008-09-01","v":27,"g":"other"},{"d":"2008-09-01","v":34,"g":"other"},{"d":"2008-09-01","v":42,"g":"other"},{"d":"2008-09-01","v":50,"g":"other"},{"d":"2008-09-01","v":60,"g":"other"},{"d":"2008-09-01","v":72,"g":"other"},{"d":"2008-09-01","v":86,"g":"other"},{"d":"2008-09-01","v":104,"g":"other"},{"d":"2008-09-01","v":120,"g":"other"},{"d":"2008-09-01","v":236,"g":"other"},
{"d":"2008-09-02","v":6,"g":"other"},{"d":"2008-09-02","v":13,"g":"other"},{"d":"2008-09-02","v":20,"g":"other"},{"d":"2008-09-02","v":27,"g":"other"},{"d":"2008-09-02","v":34,"g":"other"},{"d":"2008-09-02","v":42,"g":"other"},{"d":"2008-09-02","v":50,"g":"other"},{"d":"2008-09-02","v":60,"g":"other"},{"d":"2008-09-02","v":72,"g":"other"},{"d":"2008-09-02","v":85,"g":"other"},{"d":"2008-09-02","v":99,"g":"other"},{"d":"2008-09-02","v":133,"g":"other"},{"d":"2008-09-02","v":198,"g":"other"},{"d":"2008-09-02","v":306,"g":"other"},
{"d":"2008-09-03","v":6,"g":"other"},{"d":"2008-09-03","v":13,"g":"other"},{"d":"2008-09-03","v":20,"g":"other"},{"d":"2008-09-03","v":27,"g":"other"},{"d":"2008-09-03","v":34,"g":"other"},{"d":"2008-09-03","v":42,"g":"other"},{"d":"2008-09-03","v":50,"g":"other"},{"d":"2008-09-03","v":60,"g":"other"},{"d":"2008-09-03","v":72,"g":"other"},{"d":"2008-09-03","v":85,"g":"other"},{"d":"2008-09-03","v":104,"g":"other"},{"d":"2008-09-03","v":128,"g":"other"},{"d":"2008-09-03","v":151,"g":"other"},{"d":"2008-09-03","v":163,"g":"other"},
{"d":"2008-09-04","v":6,"g":"other"},{"d":"2008-09-04","v":13,"g":"other"},{"d":"2008-09-04","v":20,"g":"other"},{"d":"2008-09-04","v":27,"g":"other"},{"d":"2008-09-04","v":34,"g":"other"},{"d":"2008-09-04","v":42,"g":"other"},{"d":"2008-09-04","v":50,"g":"other"},{"d":"2008-09-04","v":60,"g":"other"},{"d":"2008-09-04","v":72,"g":"other"},{"d":"2008-09-04","v":85,"g":"other"},{"d":"2008-09-04","v":104,"g":"other"},{"d":"2008-09-04","v":185,"g":"other"},{"d":"2008-09-04","v":491,"g":"other"},
{"d":"2008-09-05","v":6,"g":"other"},{"d":"2008-09-05","v":13,"g":"other"},{"d":"2008-09-05","v":20,"g":"other"},{"d":"2008-09-05","v":27,"g":"other"},{"d":"2008-09-05","v":34,"g":"other"},{"d":"2008-09-05","v":42,"g":"other"},{"d":"2008-09-05","v":50,"g":"other"},{"d":"2008-09-05","v":60,"g":"other"},{"d":"2008-09-05","v":72,"g":"other"},{"d":"2008-09-05","v":85,"g":"other"},{"d":"2008-09-05","v":104,"g":"other"},
{"d":"2008-09-06","v":6,"g":"other"},{"d":"2008-09-06","v":13,"g":"other"},{"d":"2008-09-06","v":20,"g":"other"},{"d":"2008-09-06","v":27,"g":"other"},{"d":"2008-09-06","v":34,"g":"other"},{"d":"2008-09-06","v":42,"g":"other"},{"d":"2008-09-06","v":50,"g":"other"},{"d":"2008-09-06","v":63,"g":"other"},{"d":"2008-09-06","v":104,"g":"other"},{"d":"2008-09-06","v":145,"g":"other"},{"d":"2008-09-06","v":163,"g":"other"},
{"d":"2008-09-07","v":10,"g":"other"},
{"d":"2008-06-03","v":30,"g":"second"},{"d":"2008-06-04","v":28,"g":"second"},{"d":"2008-06-05","v":128,"g":"second"},{"d":"2008-06-06","v":28,"g":"second"},{"d":"2008-06-09","v":17,"g":"second"},{"d":"2008-06-14","v":10,"g":"second"},{"d":"2008-06-15","v":28,"g":"second"},{"d":"2008-06-18","v":20,"g":"second"},
{"d":"2008-07-05","v":14,"g":"second"},{"d":"2008-07-07","v":240,"g":"second"},{"d":"2008-07-08","v":14,"g":"second"},{"d":"2008-07-09","v":88,"g":"second"},{"d":"2008-07-11","v":78,"g":"second"},{"d":"2008-07-13","v":93,"g":"second"},{"d":"2008-07-14","v":70,"g":"second"},{"d":"2008-07-23","v":78,"g":"second"},{"d":"2008-07-23","v":52,"g":"second"},{"d":"2008-07-24","v":203,"g":"second"},{"d":"2008-07-27","v":43,"g":"second"},{"d":"2008-07-28","v":16,"g":"second"},{"d":"2008-07-31","v":351,"g":"second"},{"d":"2008-08-01","v":10,"g":"second"},{"d":"2008-08-02","v":59,"g":"second"},{"d":"2008-08-06","v":16,"g":"second"},{"d":"2008-08-07","v":214,"g":"second"},{"d":"2008-08-08","v":10,"g":"second"},{"d":"2008-08-12","v":8,"g":"second"},{"d":"2008-08-15","v":25,"g":"second"},{"d":"2008-08-15","v":46,"g":"second"},{"d":"2008-08-16","v":829,"g":"second"},{"d":"2008-08-18","v":93,"g":"second"},{"d":"2008-08-19","v":46,"g":"second"},{"d":"2008-08-21","v":72,"g":"second"},{"d":"2008-08-24","v":28,"g":"second"},{"d":"2008-08-26","v":116,"g":"second"},{"d":"2008-08-30","v":34,"g":"second"},{"d":"2008-08-31","v":131,"g":"second"},{"d":"2008-09-05","v":10,"g":"second"},{"d":"2008-09-06","v":151,"g":"second"},
{"d":"2008-06-04","v":94,"g":"first"},{"d":"2008-06-04","v":41,"g":"first"},{"d":"2008-06-05","v":62,"g":"first"},{"d":"2008-06-06","v":52,"g":"first"},{"d":"2008-06-08","v":281,"g":"first"},{"d":"2008-06-09","v":256,"g":"first"},{"d":"2008-06-14","v":62,"g":"first"},{"d":"2008-06-15","v":16,"g":"first"},{"d":"2008-06-18","v":35,"g":"first"},
{"d":"2008-07-05","v":17,"g":"first"},{"d":"2008-07-06","v":297,"g":"first"},{"d":"2008-07-08","v":72,"g":"first"},{"d":"2008-07-09","v":197,"g":"first"},{"d":"2008-07-09","v":131,"g":"first"},{"d":"2008-07-11","v":113,"g":"first"},{"d":"2008-07-12","v":29,"g":"first"},{"d":"2008-07-13","v":118,"g":"first"},{"d":"2008-07-14","v":31,"g":"first"},{"d":"2008-07-23","v":28,"g":"first"},{"d":"2008-07-24","v":134,"g":"first"},{"d":"2008-07-24","v":46,"g":"first"},{"d":"2008-07-27","v":390,"g":"first"},{"d":"2008-07-27","v":28,"g":"first"},{"d":"2008-07-28","v":316,"g":"first"},{"d":"2008-07-28","v":179,"g":"first"},{"d":"2008-07-31","v":169,"g":"first"},{"d":"2008-07-31","v":43,"g":"first"},{"d":"2008-08-01","v":43,"g":"first"},{"d":"2008-08-02","v":258,"g":"first"},{"d":"2008-08-05","v":34,"g":"first"},{"d":"2008-08-06","v":60,"g":"first"},{"d":"2008-08-07","v":121,"g":"first"},{"d":"2008-08-07","v":86,"g":"first"},{"d":"2008-08-11","v":18,"g":"first"},{"d":"2008-08-15","v":290,"g":"first"},{"d":"2008-08-15","v":59,"g":"first"},{"d":"2008-08-16","v":561,"g":"first"},{"d":"2008-08-18","v":78,"g":"first"},{"d":"2008-08-18","v":28,"g":"first"},{"d":"2008-08-19","v":22,"g":"first"},{"d":"2008-08-21","v":19,"g":"first"},{"d":"2008-08-24","v":150,"g":"first"},{"d":"2008-08-24","v":52,"g":"first"},{"d":"2008-08-25","v":25,"g":"first"},{"d":"2008-08-26","v":52,"g":"first"},{"d":"2008-08-29","v":16,"g":"first"},{"d":"2008-08-30","v":84,"g":"first"},{"d":"2008-08-30","v":61,"g":"first"},{"d":"2008-08-31","v":182,"g":"first"},{"d":"2008-09-05","v":18,"g":"first"},{"d":"2008-09-06","v":87,"g":"first"},{"d":"2008-09-07","v":94,"g":"first"}
]},
"mark":{"type":"point","filled":false,"opacity":1},
"encoding":{
"x":{"field":"d","type":"temporal",
"scale":{"type":"utc","domain":[{"year":2008,"month":5,"date":27,"utc":true},{"year":2008,"month":9,"date":11,"hours":21,"utc":true}]},
"axis":{"title":"date","values":[{"year":2008,"month":6,"date":1,"utc":true},{"year":2008,"month":7,"date":1,"utc":true},{"year":2008,"month":8,"date":1,"utc":true},{"year":2008,"month":9,"date":1,"utc":true}],
"format":"%d.%m.%Y","grid":false,"labelFontSize":23.5,"labelColor":"#333333","labelPadding":11,"labelFlush":false,"labelOverlap":false,
"tickSize":18,"tickWidth":2,"tickColor":"#222222","domainColor":"#8a8a8a","domainWidth":1.3,
"titleFontSize":23.5,"titleFontWeight":"bold","titleColor":"#111111","titlePadding":11}},
"y":{"field":"v","type":"quantitative",
"scale":{"domain":[-51.5,1053],"nice":false,"zero":false},
"axis":{"title":"duration of waiting time in min","values":[0,200,400,600,800,1000],"format":"d","grid":false,
"labelFontSize":23.5,"labelColor":"#333333","labelPadding":5,
"tickSize":19,"tickWidth":2,"tickColor":"#222222","domainColor":"#8a8a8a","domainWidth":1.3,
"titleFontSize":24,"titleFontWeight":"bold","titleColor":"#111111","titlePadding":12}},
"color":{"field":"g","type":"nominal",
"scale":{"domain":["other","second","first"],"range":["#3cb44a","#6464e8","#e0323c"]},
"legend":{"title":null,"orient":"none","legendX":35,"legendY":35,"padding":0,"labelExpr":"datum.label + ' waiting times'","labelLimit":500,"symbolSize":560,"symbolStrokeWidth":1.8,"symbolOpacity":1,"labelFontSize":23.5,"labelColor":"#333333","labelOffset":7,"rowPadding":2,
"encode":{"symbols":{"update":{"size":{"value":560},"strokeWidth":{"value":1.8}}}}}},
"shape":{"field":"g","type":"nominal",
"scale":{"domain":["other","second","first"],"range":["circle","diamond","triangle-up"]},
"legend":{"title":null,"orient":"none","legendX":35,"legendY":35,"padding":0,"labelExpr":"datum.label + ' waiting times'","labelLimit":500,"symbolSize":560,"symbolStrokeWidth":1.8,"symbolOpacity":1,"labelFontSize":23.5,"labelColor":"#333333","labelOffset":7,"rowPadding":2,
"encode":{"symbols":{"update":{"size":{"value":560},"strokeWidth":{"value":1.8}}}}}},
"size":{"condition":[{"test":"datum.g === 'other'","value":34},{"test":"datum.g === 'second'","value":200}],"value":155},
"strokeWidth":{"condition":[{"test":"datum.g === 'other'","value":2.1}],"value":1.85}
}
}
